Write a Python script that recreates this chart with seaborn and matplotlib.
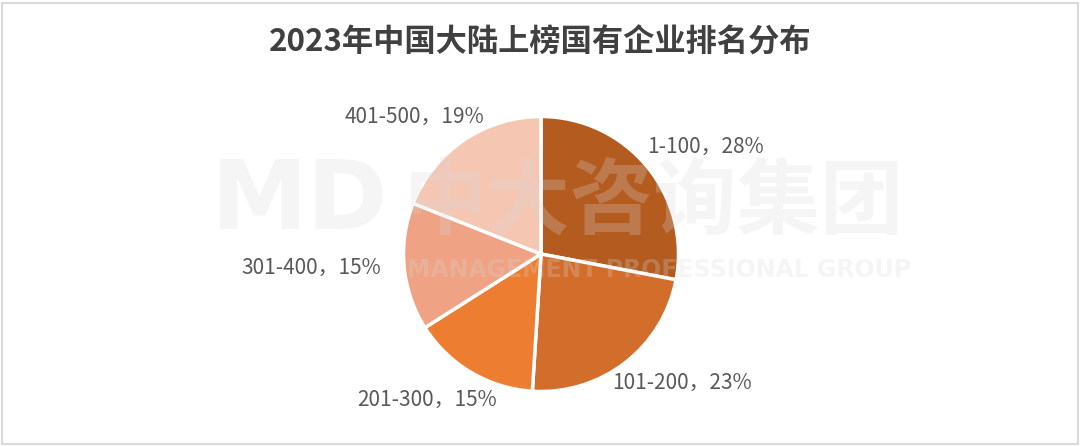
import matplotlib.pyplot as plt
import seaborn as sns
from matplotlib.patches import Rectangle

# data
ranks = ['1-100', '101-200', '201-300', '301-400', '401-500']
shares = [28, 23, 15, 15, 19]
slice_colors = ['#B45B20', '#D26D2C', '#ED7D31', '#EFA384', '#F5C6B2']

title = '2023年中国大陆上榜国有企业排名分布'

# label anchors in pie radius units (layout only)
label_pos = [(0.77, 0.78, 'left'), (0.52, -0.94, 'left'), (-0.32, -1.06, 'right'),
             (-1.16, -0.10, 'right'), (-0.41, 1.00, 'right')]

sns.set_theme(style='white')
plt.rcParams['font.family'] = ['Noto Sans CJK SC', 'DejaVu Sans']

fig = plt.figure(figsize=(10.8, 4.46), dpi=100)
ax = fig.add_axes([0, 0, 1, 1])

pal = sns.color_palette(slice_colors)
wedges, _ = ax.pie(shares, colors=pal, startangle=90, counterclock=False,
                   radius=1, wedgeprops=dict(edgecolor='white', linewidth=2.5))

for name, val, (x, y, ha) in zip(ranks, shares, label_pos):
    ax.text(x, y, f'{name}，{val}%', ha=ha, va='center', fontsize=15, color='#595959')

r_px = 137.5
ax.set_xlim(-541 / r_px, (1080 - 541) / r_px)
ax.set_ylim(-192 / r_px, 254 / r_px)
ax.axis('off')

# watermark
wm = dict(color='#d8d8d8', alpha=0.25, zorder=5, transform=fig.transFigure)
fig.text(0.277, 0.545, 'MD', fontsize=70, fontweight='bold', ha='center', va='center',
         family='DejaVu Sans', **wm)
fig.text(0.605, 0.545, '中大咨询集团', fontsize=60, fontweight='bold', ha='center', va='center', **wm)
fig.text(0.61, 0.395, 'MANAGEMENT PROFESSIONAL GROUP', fontsize=17, fontweight='bold',
         ha='center', va='center', family='DejaVu Sans', **wm)

fig.text(0.5, 0.905, title, fontsize=22.5, fontweight='bold', color='#404040',
         ha='center', va='center')

fig.patches.append(Rectangle((0.002, 0.004), 0.996, 0.99, transform=fig.transFigure,
                             fill=False, edgecolor='#d9d9d9', linewidth=1.5))

fig.savefig('out.png', dpi=100, facecolor='white')
